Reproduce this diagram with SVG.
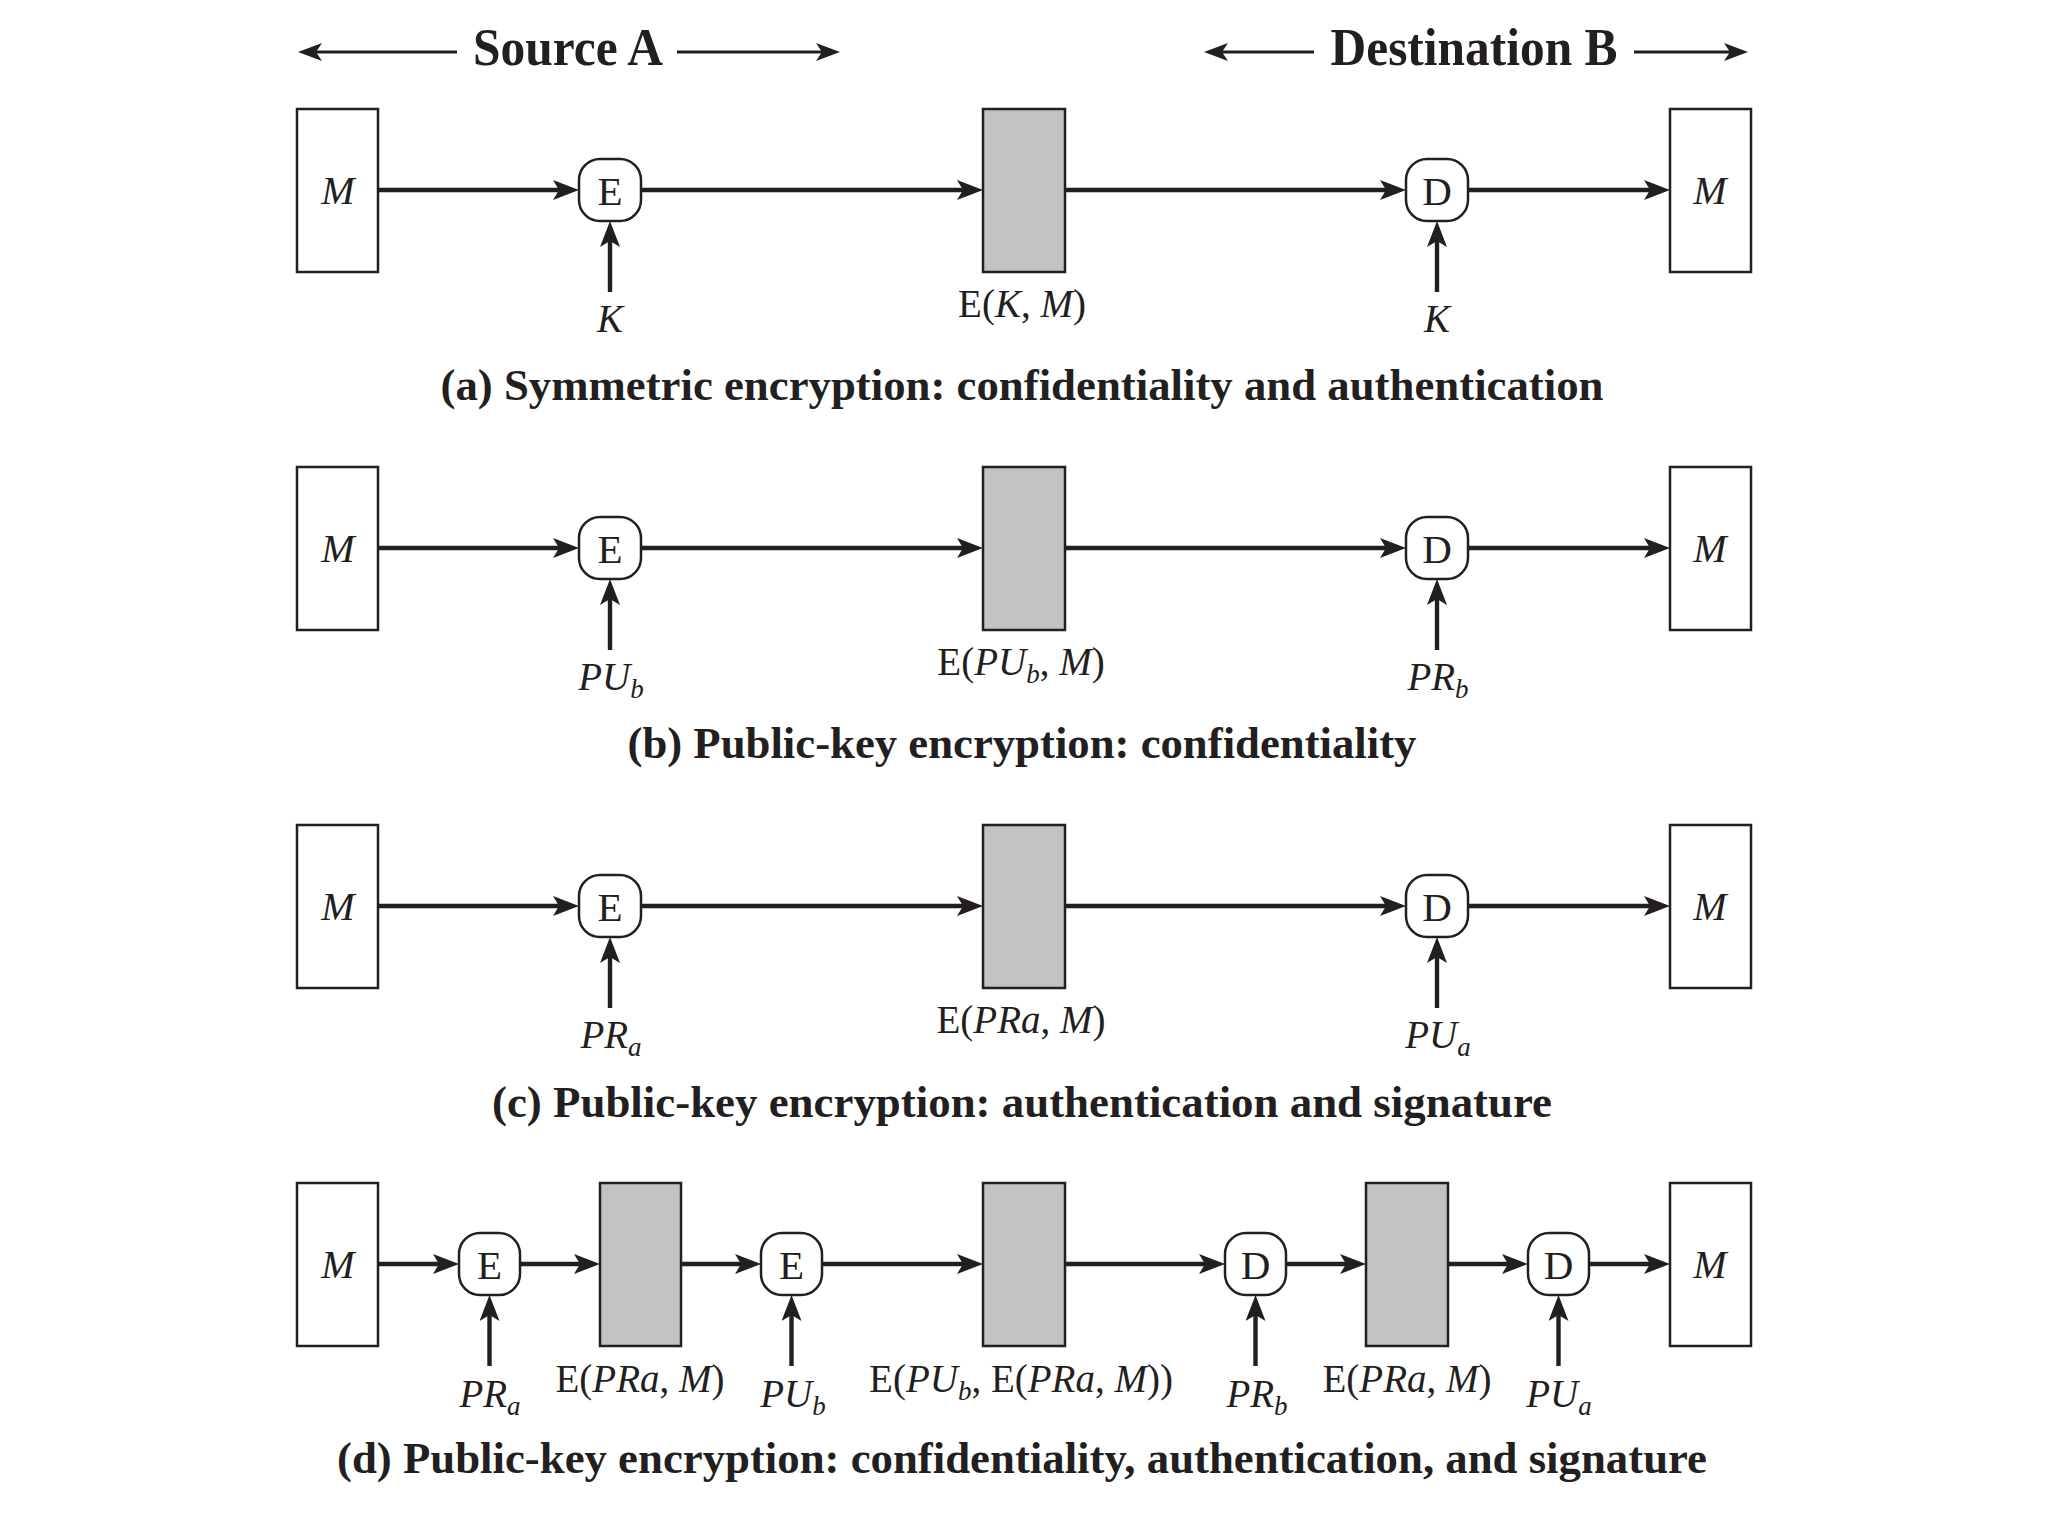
<svg xmlns="http://www.w3.org/2000/svg" width="2048" height="1536" viewBox="0 0 2048 1536">
<style>
text{font-family:"Liberation Serif","Times New Roman",serif;fill:#231f20}
.box{fill:#fff;stroke:#231f20;stroke-width:2.5}
.enc{fill:#c2c2c2;stroke:#231f20;stroke-width:2.5}
.node{fill:#fff;stroke:#231f20;stroke-width:2.5}
.op{font-size:41px;text-anchor:middle}
.m{font-size:40px;font-style:italic;text-anchor:middle}
.lbl{font-size:39px;text-anchor:middle}
.i{font-style:italic}
.cap{font-size:44px;font-weight:bold;text-anchor:middle}
.hdr{font-size:52px;font-weight:bold;text-anchor:middle}
.ln{stroke:#231f20;stroke-width:4.4;fill:none;marker-end:url(#ah)}
.hl{stroke:#231f20;stroke-width:2.8;fill:none;marker-end:url(#ahs)}
</style>
<defs>
<marker id="ah" markerUnits="userSpaceOnUse" markerWidth="28" markerHeight="20" refX="17" refY="10" orient="auto">
<path d="M0,0 L26,10 L0,20 L6,10 z" fill="#231f20"/>
</marker>
<marker id="ahs" markerUnits="userSpaceOnUse" markerWidth="26" markerHeight="18" refX="15" refY="9" orient="auto">
<path d="M0,0 L24,9 L0,18 L6,9 z" fill="#231f20"/>
</marker>
</defs>
<rect width="2048" height="1536" fill="#fff"/>

<g id="header">
<text class="hdr" x="568" y="65" textLength="190" lengthAdjust="spacingAndGlyphs">Source A</text>
<text class="hdr" x="1474" y="65" textLength="287" lengthAdjust="spacingAndGlyphs">Destination B</text>
</g>

<g id="connectors">
<line class="hl" x1="457" y1="52" x2="307" y2="52"/>
<line class="hl" x1="677" y1="52" x2="831" y2="52"/>
<line class="hl" x1="1314" y1="52" x2="1213" y2="52"/>
<line class="hl" x1="1634" y1="52" x2="1739" y2="52"/>

<!-- row a -->
<line class="ln" x1="378" y1="190" x2="570" y2="190"/>
<line class="ln" x1="641" y1="190" x2="974" y2="190"/>
<line class="ln" x1="1065" y1="190" x2="1397" y2="190"/>
<line class="ln" x1="1468" y1="190" x2="1661" y2="190"/>
<line class="ln" x1="610" y1="292" x2="610" y2="230"/>
<line class="ln" x1="1437" y1="292" x2="1437" y2="230"/>
<!-- row b -->
<line class="ln" x1="378" y1="548" x2="570" y2="548"/>
<line class="ln" x1="641" y1="548" x2="974" y2="548"/>
<line class="ln" x1="1065" y1="548" x2="1397" y2="548"/>
<line class="ln" x1="1468" y1="548" x2="1661" y2="548"/>
<line class="ln" x1="610" y1="650" x2="610" y2="588"/>
<line class="ln" x1="1437" y1="650" x2="1437" y2="588"/>
<!-- row c -->
<line class="ln" x1="378" y1="906" x2="570" y2="906"/>
<line class="ln" x1="641" y1="906" x2="974" y2="906"/>
<line class="ln" x1="1065" y1="906" x2="1397" y2="906"/>
<line class="ln" x1="1468" y1="906" x2="1661" y2="906"/>
<line class="ln" x1="610" y1="1008" x2="610" y2="946"/>
<line class="ln" x1="1437" y1="1008" x2="1437" y2="946"/>
<!-- row d -->
<line class="ln" x1="378" y1="1264" x2="450" y2="1264"/>
<line class="ln" x1="520" y1="1264" x2="591" y2="1264"/>
<line class="ln" x1="681" y1="1264" x2="752" y2="1264"/>
<line class="ln" x1="822" y1="1264" x2="974" y2="1264"/>
<line class="ln" x1="1065" y1="1264" x2="1216" y2="1264"/>
<line class="ln" x1="1286" y1="1264" x2="1357" y2="1264"/>
<line class="ln" x1="1448" y1="1264" x2="1519" y2="1264"/>
<line class="ln" x1="1589" y1="1264" x2="1661" y2="1264"/>
<line class="ln" x1="489.5" y1="1366" x2="489.5" y2="1304"/>
<line class="ln" x1="791.5" y1="1366" x2="791.5" y2="1304"/>
<line class="ln" x1="1255.5" y1="1366" x2="1255.5" y2="1304"/>
<line class="ln" x1="1558.5" y1="1366" x2="1558.5" y2="1304"/>
</g>

<!-- ROW A -->
<g id="a-src-m"><rect class="box" x="297" y="109" width="81" height="163"/><text class="m" x="338" y="204">M</text></g>
<g id="a-enc"><rect class="node" x="579" y="159" width="62" height="62" rx="21"/><text class="op" x="610" y="205">E</text></g>
<g id="a-key-e"><text class="lbl i" x="610" y="332">K</text></g>
<g id="a-cipher"><rect class="enc" x="983" y="109" width="82" height="163"/><text class="lbl" x="1022" y="317">E(<tspan class="i">K</tspan>, <tspan class="i">M</tspan>)</text></g>
<g id="a-dec"><rect class="node" x="1406" y="159" width="62" height="62" rx="21"/><text class="op" x="1437" y="205">D</text></g>
<g id="a-key-d"><text class="lbl i" x="1437" y="332">K</text></g>
<g id="a-dst-m"><rect class="box" x="1670" y="109" width="81" height="163"/><text class="m" x="1710" y="204">M</text></g>
<g id="a-caption"><text class="cap" x="1022" y="400" textLength="1163" lengthAdjust="spacingAndGlyphs">(a) Symmetric encryption: confidentiality and authentication</text></g>

<!-- ROW B -->
<g id="b-src-m"><rect class="box" x="297" y="467" width="81" height="163"/><text class="m" x="338" y="562">M</text></g>
<g id="b-enc"><rect class="node" x="579" y="517" width="62" height="62" rx="21"/><text class="op" x="610" y="563">E</text></g>
<g id="b-key-e"><text class="lbl i" x="611" y="690">PU<tspan font-size="27" dy="8">b</tspan></text></g>
<g id="b-cipher"><rect class="enc" x="983" y="467" width="82" height="163"/><text class="lbl" x="1021" y="675">E(<tspan class="i">PU</tspan><tspan class="i" font-size="27" dy="8">b</tspan><tspan dy="-8">, </tspan><tspan class="i">M</tspan>)</text></g>
<g id="b-dec"><rect class="node" x="1406" y="517" width="62" height="62" rx="21"/><text class="op" x="1437" y="563">D</text></g>
<g id="b-key-d"><text class="lbl i" x="1438" y="690">PR<tspan font-size="27" dy="8">b</tspan></text></g>
<g id="b-dst-m"><rect class="box" x="1670" y="467" width="81" height="163"/><text class="m" x="1710" y="562">M</text></g>
<g id="b-caption"><text class="cap" x="1022" y="758" textLength="789" lengthAdjust="spacingAndGlyphs">(b) Public-key encryption: confidentiality</text></g>

<!-- ROW C -->
<g id="c-src-m"><rect class="box" x="297" y="825" width="81" height="163"/><text class="m" x="338" y="920">M</text></g>
<g id="c-enc"><rect class="node" x="579" y="875" width="62" height="62" rx="21"/><text class="op" x="610" y="921">E</text></g>
<g id="c-key-e"><text class="lbl i" x="611" y="1048">PR<tspan font-size="27" dy="8">a</tspan></text></g>
<g id="c-cipher"><rect class="enc" x="983" y="825" width="82" height="163"/><text class="lbl" x="1021" y="1033">E(<tspan class="i">PRa</tspan>, <tspan class="i">M</tspan>)</text></g>
<g id="c-dec"><rect class="node" x="1406" y="875" width="62" height="62" rx="21"/><text class="op" x="1437" y="921">D</text></g>
<g id="c-key-d"><text class="lbl i" x="1438" y="1048">PU<tspan font-size="27" dy="8">a</tspan></text></g>
<g id="c-dst-m"><rect class="box" x="1670" y="825" width="81" height="163"/><text class="m" x="1710" y="920">M</text></g>
<g id="c-caption"><text class="cap" x="1022" y="1117" textLength="1060" lengthAdjust="spacingAndGlyphs">(c) Public-key encryption: authentication and signature</text></g>

<!-- ROW D -->
<g id="d-src-m"><rect class="box" x="297" y="1183" width="81" height="163"/><text class="m" x="338" y="1278">M</text></g>
<g id="d-enc1"><rect class="node" x="459" y="1233" width="61" height="62" rx="21"/><text class="op" x="489.5" y="1279">E</text></g>
<g id="d-key1"><text class="lbl i" x="490" y="1407">PR<tspan font-size="27" dy="8">a</tspan></text></g>
<g id="d-cipher1"><rect class="enc" x="600" y="1183" width="81" height="163"/><text class="lbl" x="640" y="1392">E(<tspan class="i">PRa</tspan>, <tspan class="i">M</tspan>)</text></g>
<g id="d-enc2"><rect class="node" x="761" y="1233" width="61" height="62" rx="21"/><text class="op" x="791.5" y="1279">E</text></g>
<g id="d-key2"><text class="lbl i" x="793" y="1407">PU<tspan font-size="27" dy="8">b</tspan></text></g>
<g id="d-cipher2"><rect class="enc" x="983" y="1183" width="82" height="163"/><text class="lbl" x="1021" y="1392">E(<tspan class="i">PU</tspan><tspan class="i" font-size="27" dy="8">b</tspan><tspan dy="-8">, E(</tspan><tspan class="i">PRa</tspan>, <tspan class="i">M</tspan>))</text></g>
<g id="d-dec1"><rect class="node" x="1225" y="1233" width="61" height="62" rx="21"/><text class="op" x="1255.5" y="1279">D</text></g>
<g id="d-key3"><text class="lbl i" x="1257" y="1407">PR<tspan font-size="27" dy="8">b</tspan></text></g>
<g id="d-cipher3"><rect class="enc" x="1366" y="1183" width="82" height="163"/><text class="lbl" x="1407" y="1392">E(<tspan class="i">PRa</tspan>, <tspan class="i">M</tspan>)</text></g>
<g id="d-dec2"><rect class="node" x="1528" y="1233" width="61" height="62" rx="21"/><text class="op" x="1558.5" y="1279">D</text></g>
<g id="d-key4"><text class="lbl i" x="1559" y="1407">PU<tspan font-size="27" dy="8">a</tspan></text></g>
<g id="d-dst-m"><rect class="box" x="1670" y="1183" width="81" height="163"/><text class="m" x="1710" y="1278">M</text></g>
<g id="d-caption"><text class="cap" x="1022" y="1473" textLength="1370" lengthAdjust="spacingAndGlyphs">(d) Public-key encryption: confidentiality, authentication, and signature</text></g>
</svg>
